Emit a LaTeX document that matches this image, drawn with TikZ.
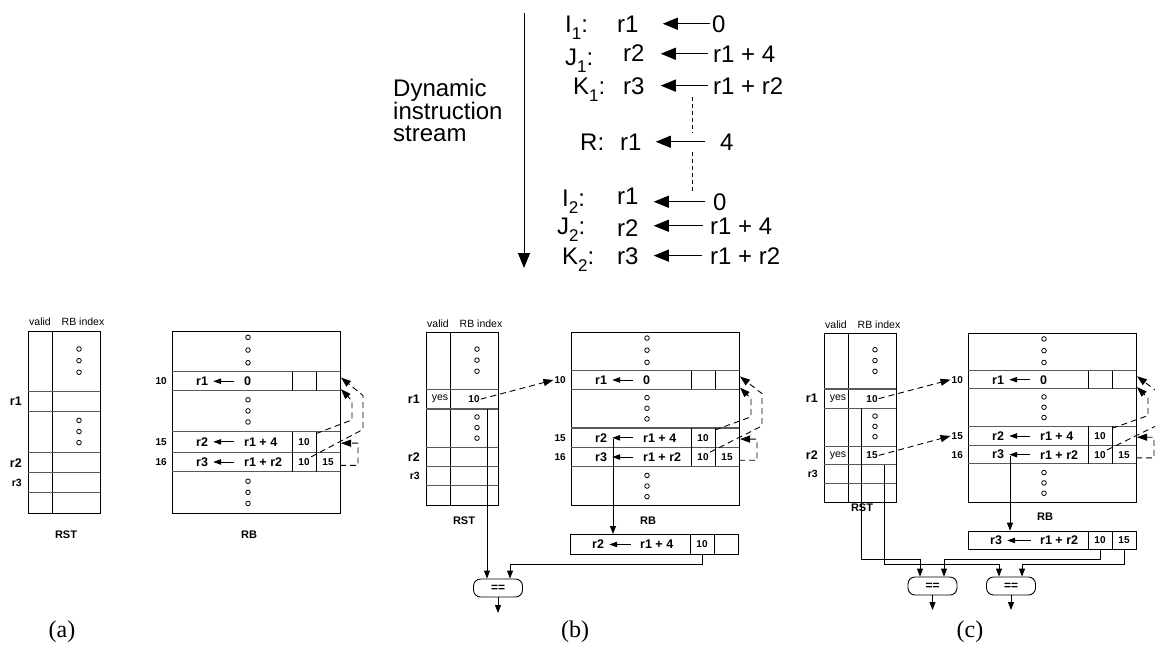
\documentclass[tikz,border=0pt]{standalone}
\usepackage{fontspec}
\setmainfont{Liberation Sans}
\newfontfamily\serifpan{Liberation Serif}
\usetikzlibrary{arrows.meta,calc}
\newcommand{\mysub}[1]{\raisebox{-0.32em}{\fontsize{17}{17}\selectfont #1}}

\tikzset{
 tbl/.style={line width=0.9pt},
 hl/.style={line width=1.1pt, black!65},
 smalldot/.style={circle, draw, line width=0.8pt, inner sep=0pt, minimum size=4.6pt},
 cell/.style={font=\fontsize{12.5}{14}\selectfont\bfseries, inner sep=0pt},
 num/.style={font=\fontsize{10}{12}\selectfont\bfseries, inner sep=1pt},
 lbl/.style={font=\fontsize{10.5}{12}\selectfont, inner sep=1pt},
 rowlbl/.style={font=\fontsize{12.5}{14}\selectfont\bfseries, inner sep=0pt},
 rowlblsm/.style={font=\fontsize{10.5}{12}\selectfont\bfseries, inner sep=0pt},
 tname/.style={font=\fontsize{11}{13}\selectfont\bfseries, inner sep=0pt},
 cellarr/.style={line width=0.9pt, -{Triangle[length=8pt,width=5.5pt]}},
 conn/.style={line width=0.9pt, -{Triangle[length=8pt,width=6pt]}},
 dsh/.style={line width=0.9pt, black, dash pattern=on 6pt off 4pt, -{Triangle[length=10pt,width=7pt]}},
 bigarr/.style={line width=1pt, -{Triangle[length=15pt,width=12pt]}},
 toptxt/.style={font=\fontsize{24}{22}\selectfont, inner sep=0pt, anchor=base west},
 dotline/.style={line width=0.8pt, dash pattern=on 4pt off 3pt},
 eqbox/.style={draw, line width=0.9pt, rounded corners=7pt, minimum width=49pt, minimum height=18pt, inner sep=0pt, font=\fontsize{12}{14}\selectfont\bfseries},
 panlbl/.style={font=\serifpan\fontsize{24}{26}\selectfont, inner sep=0pt},
 lowbox/.style={draw, line width=0.9pt, anchor=north west, minimum width=168pt, inner sep=0pt},
}

% RST table: #1 prefix, #2 x, #3 y, #4 yscale, #5 v1, #6 i1, #7 v2, #8 i2, #9 name y
\newcommand{\RSTtab}[9]{%
\begin{scope}[shift={(#2,#3)}, yscale=#4]
 \draw[tbl] (0,0) rectangle (72,172);
 \draw[tbl] (24,0) -- (24,172);
 \foreach \yy in {57,76.5,115,134,153} \draw[hl] (0,\yy) -- (72,\yy);
 \foreach \yy in {17,28,39,84.5,95,105.5} \node[smalldot] at (51,\yy) {};
 \node[lbl] (#1-valid) at (12,-8.5) {valid};
 \node[lbl] (#1-rbi) at (55,-8.5) {RB index};
 \node[rowlbl, anchor=east] (#1-r1) at (-6,66.75) {r1};
 \node[rowlbl, anchor=east] (#1-r2) at (-6,124.5) {r2};
 \node[rowlblsm, anchor=east] (#1-r3) at (-6,143.5) {r3};
 \node[lbl] (#1-v1) at (14,66.75) {#5};
 \node[num] (#1-i1) at (48,66.75) {#6};
 \node[lbl] (#1-v2) at (14,124.5) {#7};
 \node[num] (#1-i2) at (48,124.5) {#8};
 \node[tname] (#1-name) at (38,#9) {RST};
 \coordinate (#1-ra) at (37,76.5);
 \coordinate (#1-rb) at (61,76.5);
 \coordinate (#1-rc) at (60,134);
\end{scope}}

% RB table: #1 prefix, #2 x, #3 y, #4 yscale, #5 name y
\newcommand{\RBtab}[5]{%
\begin{scope}[shift={(#2,#3)}, yscale=#4]
 \draw[tbl] (0,0) rectangle (168,172);
 \foreach \yy in {38.5,56.5,95,114.5,133} \draw[hl] (0,\yy) -- (168,\yy);
 \draw[tbl] (120,38.5) -- (120,56.5) (144,38.5) -- (144,56.5)
            (120,95) -- (120,133) (144,95) -- (144,133);
 \foreach \yy in {6,18,30,65,75.5,86,142,152.5,163} \node[smalldot] at (76,\yy) {};
 \node[num, anchor=east] (#1-l10) at (-4,47.5) {10};
 \node[num, anchor=east] (#1-l15) at (-4,104.75) {15};
 \node[num, anchor=east] (#1-l16) at (-4,123.75) {16};
 \node[cell, anchor=west] (#1-ea) at (24,47.5) {r1};
 \node[cell, anchor=west] (#1-va) at (72,47.5) {0};
 \draw[cellarr, shorten <=10pt, shorten >=5pt] (#1-va.west) -- (#1-ea.east);
 \node[cell, anchor=west] (#1-eb) at (24,104.75) {r2};
 \node[cell, anchor=west] (#1-vb) at (72,104.75) {r1 + 4};
 \draw[cellarr, shorten <=10pt, shorten >=5pt] (#1-vb.west) -- (#1-eb.east);
 \node[cell, anchor=west] (#1-ec) at (24,123.75) {r3};
 \node[cell, anchor=west] (#1-vc) at (72,123.75) {r1 + r2};
 \draw[cellarr, shorten <=10pt, shorten >=5pt] (#1-vc.west) -- (#1-ec.east);
 \node[num] (#1-c15a) at (132,104.75) {10};
 \node[num] (#1-c16a) at (132,123.75) {10};
 \node[num] (#1-c16b) at (156,123.75) {15};
 \node[tname] (#1-name) at (77,#5) {RB};
 \coordinate (#1-r2tip) at (42,106);
 \coordinate (#1-r3tip) at (42,125);
 % dashed producer links
 \coordinate (#1-pa) at (144,97);
 \coordinate (#1-pb) at (139,119);
 \coordinate (#1-pc) at (168,127);
 \coordinate (#1-ta) at (169,55);
 \coordinate (#1-tb) at (169,44);
 \coordinate (#1-tc) at (169,106);
 \draw[dsh] (#1-pa) -- (180,84) -- (180,66) -- (#1-ta);
 \draw[dsh] (#1-pb) -- (191,93) -- (191,61) -- (#1-tb);
 \draw[dsh] (#1-pc) -- (186,127) -- (186,106) -- (#1-tc);
\end{scope}}

\begin{document}
\begin{tikzpicture}[x=1pt,y=-1pt]
\useasboundingbox (0,0) rectangle (1155,651);
\fill[white] (0,0) rectangle (1155,651);

% ---------- top: instruction stream ----------
\node[toptxt, anchor=north west, align=left] (dis) at (393,78.5) {Dynamic\\instruction\\stream};
\coordinate (sa) at (524,13);
\coordinate (sb) at (524,268);
\draw[bigarr] (sa) -- (sb);

\node[toptxt] (i1l) at (565,32) {I\mysub{1}:};
\node[toptxt] (i1r) at (617,32.5) {r1};
\node[toptxt] (i1v) at (712,32) {0};
\draw[bigarr, shorten <=2pt, shorten >=24pt] (i1v.west) -- (i1v.west -| i1r.east);

\node[toptxt] (j1l) at (565,65) {J\mysub{1}:};
\node[toptxt] (j1r) at (623,61) {r2};
\node[toptxt] (j1v) at (713,62) {r1 + 4};
\draw[bigarr, shorten <=5pt, shorten >=16pt] (j1v.west) -- (j1v.west -| j1r.east);

\node[toptxt] (k1l) at (573,94) {K\mysub{1}:};
\node[toptxt] (k1r) at (623,94) {r3};
\node[toptxt] (k1v) at (713,94) {r1 + r2};
\draw[bigarr, shorten <=5pt, shorten >=16pt] (k1v.west) -- (k1v.west -| k1r.east);

\node[toptxt] (rl) at (580,150) {R:};
\node[toptxt] (rr) at (620,150) {r1};
\node[toptxt] (rv) at (720,150) {4};
\draw[bigarr, shorten <=15pt, shorten >=14pt] (rv.west) -- (rv.west -| rr.east);

\node[toptxt] (i2l) at (562,206) {I\mysub{2}:};
\node[toptxt] (i2r) at (617,204) {r1};
\node[toptxt] (i2v) at (713,210) {0};
\draw[bigarr, shorten <=8pt, shorten >=15pt] (i2v.west) -- (i2v.west -| i2r.east);

\node[toptxt] (j2l) at (557,234) {J\mysub{2}:};
\node[toptxt] (j2r) at (617,236) {r2};
\node[toptxt] (j2v) at (710,234) {r1 + 4};
\draw[bigarr, shorten <=7pt, shorten >=15pt] (j2v.west) -- (j2v.west -| j2r.east);

\node[toptxt] (k2l) at (562,264) {K\mysub{2}:};
\node[toptxt] (k2r) at (617,264) {r3};
\node[toptxt] (k2v) at (710,264) {r1 + r2};
\draw[bigarr, shorten <=8pt, shorten >=15pt] (k2v.west) -- (k2v.west -| k2r.east);

\coordinate (d1a) at (692,97);  \coordinate (d1b) at (692,133);
\coordinate (d2a) at (692,152); \coordinate (d2b) at (692,193);
\draw[dotline] (d1a) -- (d1b);
\draw[dotline] (d2a) -- (d2b);

% ---------- panel (a) ----------
\RSTtab{a}{28}{331}{1.058}{}{}{}{}{193}
\RBtab{a}{172}{331}{1.058}{193}
\node[panlbl] (la) at (62,632) {(a)};

% ---------- panel (b) ----------
\RSTtab{b}{426}{332}{1.006}{yes}{10}{}{}{188}
\RBtab{b}{571}{332}{1.01}{187}
\draw[dsh] (b-i1.east) -- (b-l10.west);
\node[lowbox, minimum height=20pt] (b-low) at (570,534) {};
\draw[tbl] ([xshift=120pt]b-low.north west) -- ([xshift=120pt]b-low.south west)
           ([xshift=144pt]b-low.north west) -- ([xshift=144pt]b-low.south west);
\node[cell, anchor=west] (b-lr) at ([xshift=22pt]b-low.west) {r2};
\node[cell, anchor=west] (b-lv) at ([xshift=70pt]b-low.west) {r1 + 4};
\draw[cellarr, shorten <=9pt, shorten >=5pt] (b-lv.west) -- (b-lr.east);
\node[num] (b-l10c) at ([xshift=132pt]b-low.west) {10};
\draw[conn] (b-r2tip) -- (b-r2tip |- b-low.north);
\node[eqbox] (b-eq) at (498,588) {==};
\draw[conn] (b-rb) -- (b-rb |- b-eq.north);
\draw[conn] (b-l10c |- b-low.south) -- ++(0,10) -| ($(b-eq.north)+(12,0)$);
\coordinate (b-out) at (498,613);
\draw[conn] (b-eq.south) -- (b-out);
\node[panlbl] (lb) at (575,632) {(b)};

% ---------- panel (c) ----------
\RSTtab{c}{824}{333}{0.983}{yes}{10}{yes}{15}{178}
\RBtab{c}{968}{333}{0.983}{187}
\draw[dsh] (c-i1.east) -- (c-l10.west);
\draw[dsh] (c-i2.east) -- (c-l15.west);
\node[lowbox, minimum height=18.6pt] (c-low) at (968,530.7) {};
\draw[tbl] ([xshift=120pt]c-low.north west) -- ([xshift=120pt]c-low.south west)
           ([xshift=144pt]c-low.north west) -- ([xshift=144pt]c-low.south west);
\node[cell, anchor=west] (c-lr) at ([xshift=22pt]c-low.west) {r3};
\node[cell, anchor=west] (c-lv) at ([xshift=72pt]c-low.west) {r1 + r2};
\draw[cellarr, shorten <=9pt, shorten >=5pt] (c-lv.west) -- (c-lr.east);
\node[num] (c-l10c) at ([xshift=132pt]c-low.west) {10};
\node[num] (c-l15c) at ([xshift=156pt]c-low.west) {15};
\draw[conn] (c-r3tip) -- (c-r3tip |- c-low.north);
\node[eqbox] (c-eq1) at (932.5,586) {==};
\node[eqbox] (c-eq2) at (1011,586) {==};
\coordinate (c-lev1) at (0,559);
\coordinate (c-lev2) at (0,564);
\draw[conn] (c-ra) -- (c-ra |- c-lev1) -| ($(c-eq1.north)+(-12.5,0)$);
\draw[conn] (c-rc) -- (c-rc |- c-lev2) -| ($(c-eq2.north)+(-12,0)$);
\draw[conn] (c-l10c |- c-low.south) -- (c-l10c |- c-lev1) -| ($(c-eq1.north)+(11.5,0)$);
\draw[conn] (c-l15c |- c-low.south) -- (c-l15c |- c-lev2) -| ($(c-eq2.north)+(11,0)$);
\coordinate (c-out1) at (932.5,610);
\coordinate (c-out2) at (1011,610);
\draw[conn] (c-eq1.south) -- (c-out1);
\draw[conn] (c-eq2.south) -- (c-out2);
\node[panlbl] (lc) at (970,632) {(c)};
\end{tikzpicture}
\end{document}
